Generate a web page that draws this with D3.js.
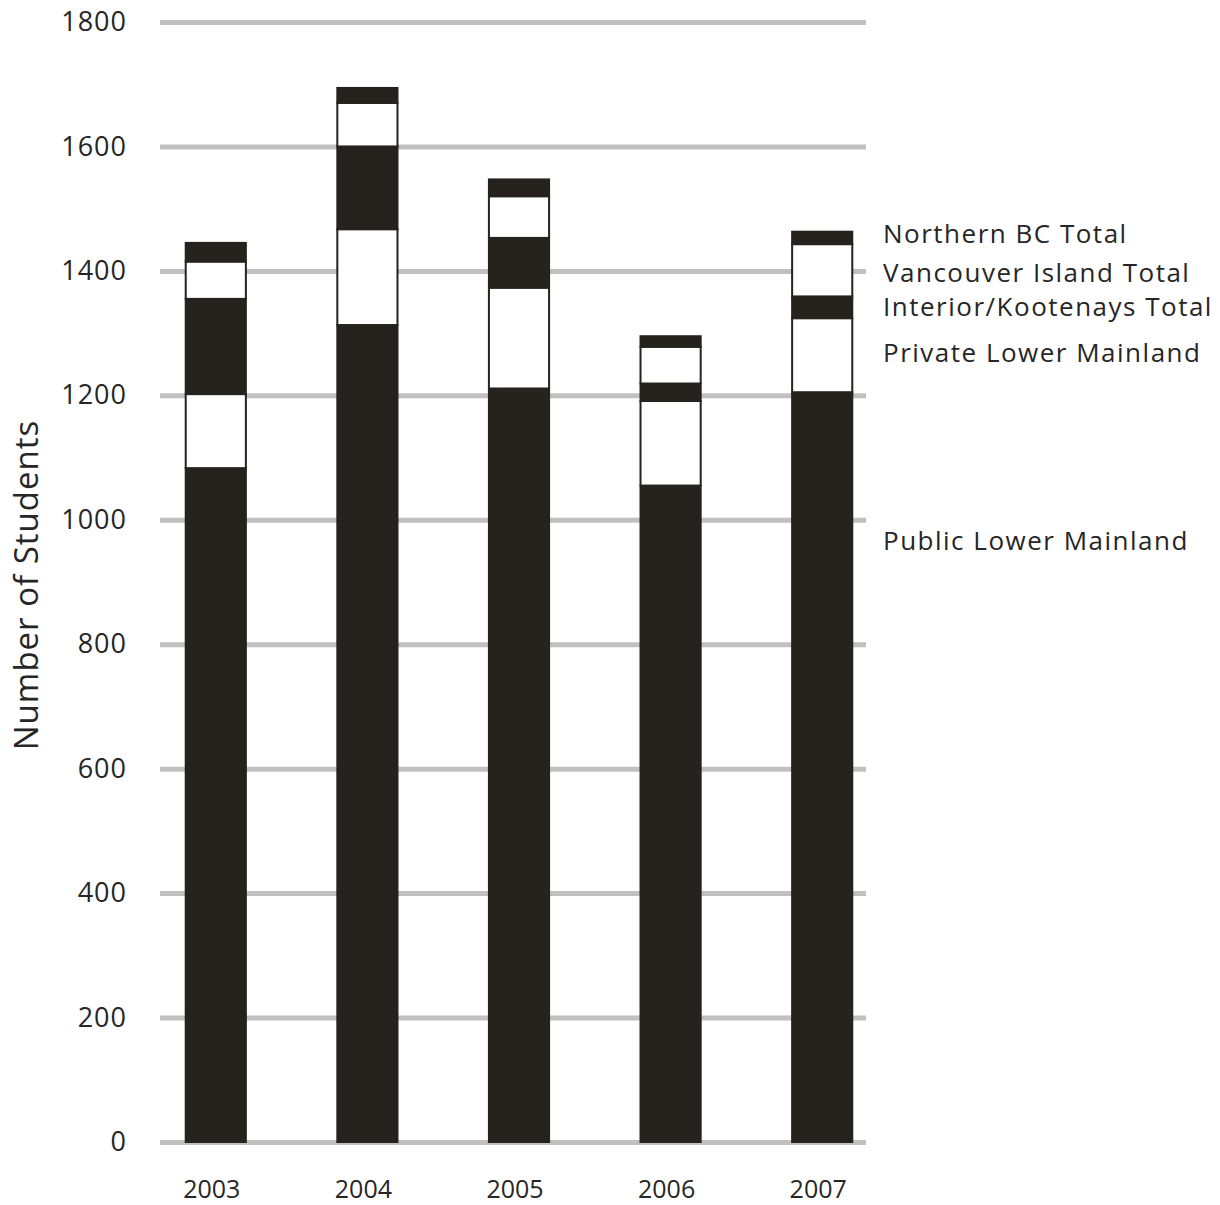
<!DOCTYPE html>
<html>
<head>
<meta charset="utf-8">
<script src="https://cdn.jsdelivr.net/npm/d3@7"></script>
<style>
  html, body { margin: 0; padding: 0; background: #fff; }
  svg text { font-family: "Open Sans", "Noto Sans", sans-serif; fill: #262626; }
</style>
</head>
<body>
<div id="chart"></div>
<script>
const years = ['2003', '2004', '2005', '2006', '2007'];
const regions = ['Public Lower Mainland', 'Private Lower Mainland', 'Interior/Kootenays Total', 'Vancouver Island Total', 'Northern BC Total'];
const publicLM = [1083, 1313, 1211, 1055, 1205];
const privateLM = [119, 154, 162, 136, 119];
const interior = [153, 133, 80, 28, 35];
const island = [60, 70, 67, 59, 84];
const northern = [30, 24, 27, 17, 20];
const yTicks = [0, 200, 400, 600, 800, 1000, 1200, 1400, 1600, 1800];
// where the right-hand labels sit, in student counts
const labelAt = [966, 1268, 1342, 1397, 1459];

const series = [publicLM, privateLM, interior, island, northern];
const fills = ['#26231f', '#ffffff', '#26231f', '#ffffff', '#26231f'];

const width = 1220, height = 1205;
const svg = d3.select('#chart').append('svg')
  .attr('width', width).attr('height', height)
  .attr('viewBox', `0 0 ${width} ${height}`);

const x = d3.scaleBand().domain(years).range([140, 898])
  .paddingInner(0.59).paddingOuter(0.295);
const y = d3.scaleLinear().domain([0, 1800]).range([1142, 22]);

// gridlines + tick labels
const grid = svg.append('g')
  .attr('transform', 'translate(866,0)')
  .call(d3.axisLeft(y).tickValues(yTicks).tickFormat(d3.format('d')).tickSize(706).tickPadding(33));
grid.select('.domain').remove();
grid.selectAll('.tick line').attr('stroke', '#c0c0c0').attr('stroke-width', 5);
grid.selectAll('.tick text').attr('font-size', 27).attr('fill', '#262626')
  .style('letter-spacing', '1px');

// stacked bars
const rows = years.map((yr, i) => {
  const r = { year: yr };
  regions.forEach((k, j) => { r[k] = series[j][i]; });
  return r;
});
const stacked = d3.stack().keys(regions)(rows);

svg.append('g').selectAll('g')
  .data(stacked)
  .join('g')
  .attr('fill', (d, i) => fills[i])
  .selectAll('rect')
  .data(d => d)
  .join('rect')
  .attr('x', d => x(d.data.year) + 1)
  .attr('width', x.bandwidth() - 2)
  .attr('y', d => y(d[1]))
  .attr('height', d => y(d[0]) - y(d[1]))
  .attr('stroke', '#26231f')
  .attr('stroke-width', 2);

// x labels
svg.append('g').selectAll('text')
  .data(years)
  .join('text')
  .attr('x', d => x(d) + x.bandwidth() / 2 - 4)
  .attr('y', 1198)
  .attr('text-anchor', 'middle')
  .attr('font-size', 25)
  .text(d => d);

// right-hand labels
svg.append('g').selectAll('text')
  .data(regions)
  .join('text')
  .attr('x', 883)
  .attr('y', (d, i) => y(labelAt[i]))
  .attr('dy', '0.35em')
  .attr('font-size', 26)
  .style('letter-spacing', '1.5px')
  .text(d => d);

// y title
svg.append('text')
  .attr('transform', 'translate(38,585) rotate(-90)')
  .attr('text-anchor', 'middle')
  .attr('font-size', 33)
  .style('letter-spacing', '1px')
  .text('Number of Students');
</script>
</body>
</html>
